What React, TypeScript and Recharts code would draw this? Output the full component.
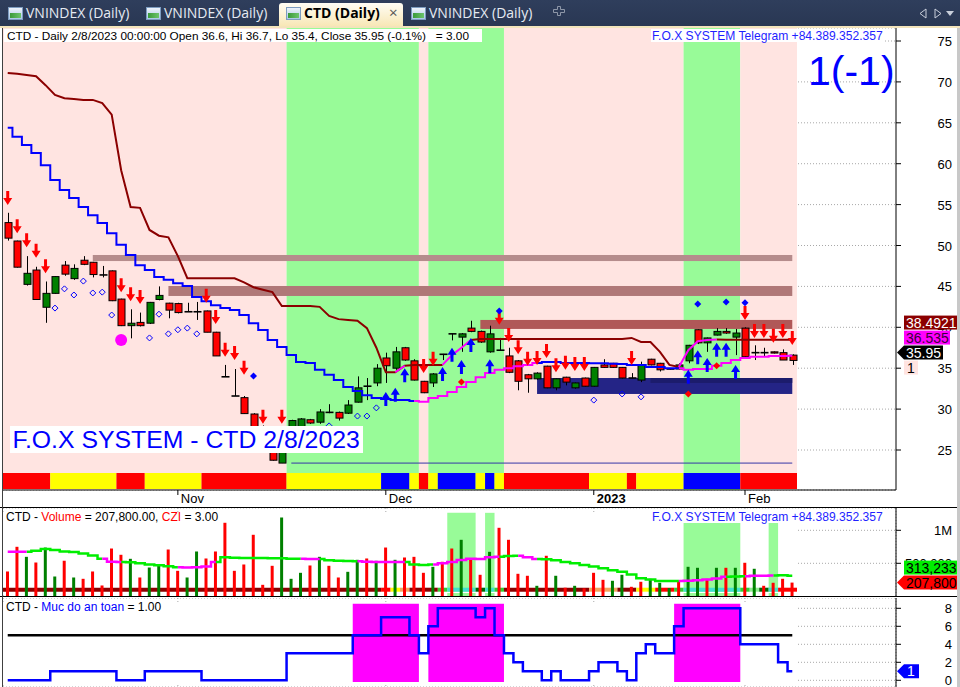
import React from 'react';
import {
  ComposedChart, XAxis, YAxis, Bar, Line, Scatter, ReferenceArea, ReferenceLine, CartesianGrid, Cell,
} from 'recharts';

const FONT = '"Liberation Sans", Arial, sans-serif';
const N = 84;
const PAD_R = 99;

// ---------- categories / ticks ----------
const barIndex = Array.from({ length: N }, (_, i) => i);
const dateTickIdx = [18, 40, 62, 78];
const dateTickLabel = ['Nov', 'Dec', '2023', 'Feb'];
const priceTicks = [25, 30, 35, 40, 45, 50, 55, 60, 65, 70, 75];
const volTicks = [500, 1000];
const safetyTicks = [0, 2, 4, 6, 8];

// ---------- OHLC ----------
const openP = [52.8,50.55,45.25,47.0,42.45,44.15,47.6,45.95,48.2,47.95, 46.4,46.9,43.45,40.2,40.6,40.5,43.4,42.95,42.9,41.9, 41.9,42.0,39.4,33.95,31.6,31.4,29.4,27.35,25.4,23.4, 27.5,27.7,28.7,28.4,29.6,29.6,29.5,30.85,32.8,33.2, 36.25,35.0,37.5,35.9,33.4,33.2,36.7,39.2,38.8,39.9, 39.5,37.0,37.2,36.5,35.9,34.2,33.7,35.25,32.6,33.9, 32.6,33.8,32.8,35.4,35.6,35.1,33.8,33.55,36.1,35.6, 34.9,34.9,35.9,39.7,38.1,39.05,39.5,38.8,39.9,36.9, 36.9,37.0,36.9,36.6];
const highP = [54.0,50.6,48.7,47.4,45.6,46.25,48.1,47.7,48.7,48.0, 47.5,46.95,43.5,42.2,41.8,43.1,45.0,43.0,43.0,43.0, 43.1,42.05,39.45,35.4,34.9,31.6,29.5,28.0,25.8,25.5, 28.7,28.9,28.8,30.0,30.6,29.7,31.1,34.0,33.8,35.5, 36.9,37.6,37.6,36.1,33.45,34.4,36.75,39.25,39.3,40.8, 39.6,40.2,38.7,37.5,36.0,34.3,34.5,35.3,33.75,33.95, 33.25,33.85,35.15,36.1,35.65,35.15,34.4,35.8,36.15,35.65, 34.95,35.6,37.85,39.75,38.75,39.9,39.9,39.8,40.0,37.8, 37.5,37.05,37.3,36.7];
const lowP = [50.6,47.3,45.1,43.35,40.55,44.1,46.3,45.8,47.6,46.1, 46.1,43.2,40.15,38.65,40.1,40.4,43.3,41.1,41.7,41.9, 40.9,39.4,36.5,33.95,31.6,29.4,27.35,25.45,23.7,23.4, 27.3,27.5,28.2,28.2,29.5,28.6,29.4,30.8,31.1,32.8, 33.2,34.8,35.9,33.5,31.95,32.7,36.0,38.4,37.0,39.4, 38.1,36.9,37.15,34.4,32.3,32.0,33.6,32.55,32.3,32.9, 32.5,32.75,32.75,35.05,35.05,33.75,33.8,33.3,35.35,34.6, 34.85,34.85,35.6,37.95,37.0,39.0,39.2,36.6,36.3,36.0, 36.4,36.8,36.0,35.4];
const closeP = [50.9,47.35,46.6,43.4,44.15,46.2,46.5,47.2,47.7,46.45, 46.4,43.25,40.2,40.5,40.2,43.05,43.9,42.1,41.8,41.9, 41.9,39.4,36.5,33.95,31.6,29.45,27.4,25.5,23.75,24.8, 28.6,28.8,28.3,29.65,29.6,28.9,30.5,32.6,32.8,35.0, 35.3,37.0,36.0,33.55,32.0,34.3,36.7,39.2,39.2,39.5, 38.2,39.2,37.2,34.5,33.4,33.7,34.4,32.6,33.7,33.3, 33.2,32.8,35.1,35.1,35.1,33.8,33.8,35.4,35.4,34.8, 34.9,35.4,37.8,38.1,38.7,39.5,39.3,39.3,36.4,36.9, 36.9,36.85,36.0,35.95];

// ---------- trailing lines ----------
const upperLine = [71.1,71.0,70.85,70.7,69.6,68.4,68.0,67.9,67.8,67.8, 67.4,66.0,59.2,54.7,54.6,51.9,51.2,51.0,48.7,46.0, 46.0,46.0,46.0,46.0,46.0,45.5,44.9,44.6,44.3,42.6, 42.6,42.6,42.6,42.5,41.4,41.0,40.9,40.8,39.9,37.5, 34.5,34.5,35.3,35.4,35.4,35.4,35.4,36.6,37.5,38.45, 38.57,38.57,38.57,38.57,38.57,38.57,38.57,38.57,38.57,38.57, 38.57,38.57,38.57,38.57,38.57,38.57,38.7,38.2,38.2,37.0, 35.4,35.15,37.2,38.3,38.45,38.5,38.49,38.49,38.49,38.49, 38.49,38.49,38.49,38.4921];
const upperMagentaIdx = [42, 47, 48, 49, 72, 73, 74, 75];
const lowerLine = [64.4,63.3,62.3,61.3,59.8,58.0,56.8,55.8,54.7,53.7, 52.75,51.5,50.1,48.85,47.6,47.0,46.15,45.8,45.4,45.05, 43.7,43.2,42.7,42.35,42.1,41.5,40.5,39.67,38.45,37.6, 36.6,35.75,35.65,34.8,34.2,33.55,32.7,32.2,31.7,31.35, 31.25,31.1,31.1,31.0,30.9,31.35,31.6,32.1,32.7,33.3, 33.9,34.4,34.8,35.0,35.25,35.4,35.65,35.75,35.75,35.65, 35.65,35.65,35.6,35.6,35.55,35.5,35.4,35.4,35.15,35.15, 35.0,35.0,34.8,34.9,34.9,35.3,35.65,36.0,36.25,36.4, 36.4,36.5,36.5,36.535];
const lowerMagentaRuns = [[44, 56], [72, 83]];

// ---------- signal markers (bar index, price) ----------
const sellSignals = [[0,54.95],[1,51.5],[2,49.8],[3,48.5],[4,46.6],[12,44.3],[13,43.2],[14,42.85],[21,43.0],[22,40.4],[23,36.4],[24,36.0],[25,34.2],[27,28.2],[29,28.2],[44,34.4],[45,35.3],[52,40.3],[53,38.2],[54,36.7],[55,35.3],[56,35.4],[57,36.25],[58,34.5],[59,34.8],[60,34.65],[61,34.65],[66,35.4],[78,40.9],[79,38.7],[80,38.7],[81,38.1],[82,38.7],[83,37.85]];
const buySignals = [[40,32.1],[41,32.6],[42,35.0],[46,35.15],[47,37.5],[48,36.0],[49,38.7],[51,36.1],[72,34.8],[73,37.2],[74,36.25],[75,38.1],[76,38.1],[77,35.4]];
const hollowDiamonds = [[5,42.35],[6,44.7],[7,43.95],[8,45.65],[9,44.2],[10,44.3],[11,41.5],[15,38.7],[16,41.6],[17,39.2],[18,39.7],[19,39.9],[20,39.2],[34,27.95],[37,29.15],[38,29.15],[39,30.15],[62,31.1],[65,31.85],[67,31.5]];
const filledDiamonds = [[26,34.05],[52,42.0],[73,42.85],[76,43.1],[78,43.0]];
const redDots = [[48,33.3],[72,31.85],[75,35.3]];
const magentaDots = [[12,38.45]];

// ---------- zones ----------
const zones = [
  { from: 9, to: 83, lo: 48.1, hi: 48.84, color: '#b58c8c' },
  { from: 17, to: 83, lo: 43.83, hi: 45.05, color: '#b07878' },
  { from: 50, to: 83, lo: 39.8, hi: 40.9, color: '#b05858' },
  { from: 56, to: 83, lo: 31.85, hi: 33.8, color: '#242486' },
  { from: 68, to: 83, lo: 33.2, hi: 33.8, color: '#1c1c6c' },
];
const supportLine = { from: 30, to: 83, value: 23.4 };

// ---------- background / strips ----------
const bgRuns: [string, number, number][] = [['P',0,29],['G',30,43],['P',44,44],['G',45,52],['P',53,71],['G',72,77],['P',78,83]];
const mainStripRuns: [string, number, number][] = [['R',0,4],['Y',5,11],['R',12,14],['Y',15,20],['R',21,29],['Y',30,39],['B',40,42],['Y',43,43],['R',44,44],['Y',45,45],['B',46,49],['Y',50,50],['B',51,51],['Y',52,52],['R',53,61],['Y',62,65],['R',66,66],['Y',67,71],['B',72,77],['R',78,83]];

// ---------- volume ----------
const volumeK = [376,750,598,512,739,300,538,285,265,376, 164,724,629,568,285,436,467,709,386,285, 679,573,679,1114,386,482,932,174,462,1194, 265,356,467,598,462,285,371,553,573,538, 739,553,588,598,356,447,523,724,856,553, 326,674,1038,856,341,311,159,614,311,130, 159,120,356,250,235,326,144,220,265,205, 125,235,447,432,265,432,432,432,508,417, 159,205,265,207.8];
const volumeDir = 'RRGRGGRGRRRRRGRGGRRGGRRRRRRRRGGGRGRRGGRGRGRRRGRRGRRGRRRRGRGRGRRRGGRRGGGRGGRGRGRGRR';
const volumeMA = [676,676,676,690,717,700,680,670,650,620, 570,525,520,515,500,480,470,455,440,435, 440,450,520,590,585,580,580,580,575,575, 570,568,565,565,545,540,535,530,525,520, 520,520,520,480,475,480,500,520,550,570, 565,590,600,610,615,590,565,563,545,520, 500,475,450,425,395,373,330,273,255,232, 232,232,235,245,255,270,297,300,305,310, 312,315,318,313.233];
const volumeMAMagentaRuns = [[0,2],[11,12],[19,22],[32,33],[38,42],[46,52],[55,56],[72,76],[79,81]];
const volumeBgRuns = [[47,49],[51,51],[72,77],[81,81]];
const volumeStripRuns: [string, number, number][] = [['D',0,39],['R',40,40],['Y',41,41],['S',42,42],['D',43,45],['G',46,46],['C',47,49],['K',50,50],['C',51,51],['G',52,52],['D',53,61],['S',62,64],['D',65,66],['Y',67,68],['R',69,70],['G',71,71],['C',72,77],['G',78,78],['L',79,79],['K',80,80],['C',81,81],['R',82,83]];

// ---------- safety level (Muc do an toan) ----------
const safety = [0,0,0,0,0,1,1,1,1,1, 1,1,0,0,0,1,1,1,1,1, 1,0,0,0,0,0,0,0,0,0, 3,3,3,3,3,3,3,5,5,5, 7,7,7,5,3,6,8,8,8,8, 7,8,5,3,2,1,1,0,1,0, 0,0,1,2,2,1,0,3,4,3, 3,6,8,8,8,8,8,8,4,4, 4,4,2,1];
const safetyBlocks = [[37,43],[45,52],[71,77]];
const safetyThreshold = 5;
const extraLabel = 1;

// ---------- colours ----------
const BG: Record<string, string> = { P: '#ffe4e1', G: '#98fb98' };
const STRIP: Record<string, string> = { R: '#ff0000', Y: '#ffff00', B: '#0000ff' };
const VSTRIP: Record<string, string> = { D: '#8b0000', R: '#ff0000', Y: '#ffff00', S: '#f4a460', G: '#32cd32', C: '#40e0d0', K: '#006400', L: '#90ee90' };

// ---------- helpers ----------
const inRuns = (i: number, runs: number[][]) => runs.some(([a, b]) => i >= a && i <= b);
function splitSeries(vals: number[], alt: boolean[]) {
  const a: (number | null)[] = [];
  const b: (number | null)[] = [];
  for (let i = 0; i < vals.length; i++) {
    const nxt = i + 1 < vals.length ? alt[i + 1] : alt[i];
    a.push(!alt[i] || !nxt ? vals[i] : null);
    b.push(alt[i] || nxt ? vals[i] : null);
  }
  return [a, b];
}
const toMap = (arr: number[][]) => new Map(arr.map(([i, v]) => [i, v]));

const [upR, upM] = splitSeries(upperLine, barIndex.map(i => upperMagentaIdx.includes(i)));
const [loB, loM] = splitSeries(lowerLine, barIndex.map(i => inRuns(i, lowerMagentaRuns)));
const [maG, maM] = splitSeries(volumeMA, barIndex.map(i => inRuns(i, volumeMAMagentaRuns)));
const sellM = toMap(sellSignals), buyM = toMap(buySignals), hdM = toMap(hollowDiamonds),
  fdM = toMap(filledDiamonds), rdM = toMap(redDots), mdM = toMap(magentaDots);

const rows = barIndex.map(i => ({
  i,
  hl: [lowP[i], highP[i]],
  o: openP[i], h: highP[i], l: lowP[i], c: closeP[i],
  upR: upR[i], upM: upM[i], loB: loB[i], loM: loM[i],
  sell: sellM.get(i) ?? null, buy: buyM.get(i) ?? null, hd: hdM.get(i) ?? null,
  fd: fdM.get(i) ?? null, rd: rdM.get(i) ?? null, md: mdM.get(i) ?? null,
  vol: volumeK[i], maG: maG[i], maM: maM[i], safety: safety[i],
}));

// ---------- shapes ----------
const Candle = (p: any) => {
  const { x, y, width, height, payload } = p;
  if (!payload || height == null) return null;
  const { o, h, l, c } = payload;
  const k = height / (h - l);
  const yo = y + (h - o) * k;
  const yc = y + (h - c) * k;
  const cx = Math.round(x + width / 2) + 0.5;
  const top = Math.min(yo, yc), bot = Math.max(yo, yc);
  const doji = Math.abs(c - o) < 0.03;
  return (
    <g>
      <line x1={cx} x2={cx} y1={y} y2={y + height} stroke="#000" strokeWidth={1} />
      {doji ? (
        <line x1={cx - 4} x2={cx + 4} y1={yo} y2={yo} stroke="#000" strokeWidth={1.6} />
      ) : (
        <rect x={cx - 3.5} y={top} width={7} height={Math.max(bot - top, 1)} fill={c > o ? '#008000' : '#ff0000'} stroke="#000" strokeWidth={1} />
      )}
    </g>
  );
};

const SellArrow = (p: any) => {
  if (p.payload?.sell == null) return <g />;
  const { cx, cy } = p;
  return <polygon points={`${cx - 1.5},${cy - 14} ${cx + 1.5},${cy - 14} ${cx + 1.5},${cy - 7} ${cx + 4.5},${cy - 7} ${cx},${cy} ${cx - 4.5},${cy - 7} ${cx - 1.5},${cy - 7}`} fill="#ff0000" />;
};
const BuyArrow = (p: any) => {
  if (p.payload?.buy == null) return <g />;
  const { cx, cy } = p;
  return <polygon points={`${cx - 1.5},${cy + 14} ${cx + 1.5},${cy + 14} ${cx + 1.5},${cy + 7} ${cx + 4.5},${cy + 7} ${cx},${cy} ${cx - 4.5},${cy + 7} ${cx - 1.5},${cy + 7}`} fill="#0000ff" />;
};
const HollowDiamond = (p: any) => {
  if (p.payload?.hd == null) return <g />;
  const { cx, cy } = p;
  return <polygon points={`${cx},${cy - 3} ${cx + 3},${cy} ${cx},${cy + 3} ${cx - 3},${cy}`} fill="none" stroke="#0000ff" strokeWidth={1} />;
};
const FilledDiamond = (p: any) => {
  if (p.payload?.fd == null) return <g />;
  const { cx, cy } = p;
  return <polygon points={`${cx},${cy - 3.5} ${cx + 3.5},${cy} ${cx},${cy + 3.5} ${cx - 3.5},${cy}`} fill="#0000ff" />;
};
const RedDot = (p: any) => {
  if (p.payload?.rd == null) return <g />;
  const { cx, cy } = p;
  return <polygon points={`${cx},${cy - 3.5} ${cx + 3.5},${cy} ${cx},${cy + 3.5} ${cx - 3.5},${cy}`} fill="#ff0000" />;
};
const MagentaDot = (p: any) => {
  if (p.payload?.md == null) return <g />;
  return <circle cx={p.cx} cy={p.cy} r={6} fill="#ff00ff" />;
};

const ZoneRect = (p: any) => {
  const hb = p.width / p.n / 2;
  return <rect x={p.x + hb} y={p.y} width={p.width - 2 * hb} height={p.height} fill={p.color} />;
};

const RightTick = (p: any) => {
  const { x, y, payload, fmt } = p;
  return (
    <g>
      <line x1={x} x2={x + 5} y1={y} y2={y} stroke="#000" />
      <text x={x + 56} y={y + 5} textAnchor="end" fontSize={13} fontFamily={FONT} fill="#000">
        {fmt ? fmt(payload.value) : payload.value}
      </text>
    </g>
  );
};

const DateTick = (p: any) => {
  const k = dateTickIdx.indexOf(p.payload.value);
  if (k < 0) return <g />;
  const lab = dateTickLabel[k];
  return (
    <g>
      <line x1={p.x} x2={p.x} y1={p.y} y2={p.y + 5} stroke="#000" />
      <text x={p.x + 3} y={p.y + 13} fontSize={13} fontFamily={FONT} fontWeight={/^\d+$/.test(lab) ? 'bold' : 'normal'} fill="#000">{lab}</text>
    </g>
  );
};

const fmtPrice = (v: number) => String(v);
const MainTags = (props: any) => {
  const vb = props.viewBox || {};
  const ax = (vb.x ?? 0) + (vb.width ?? 0);
  const y = vb.y ?? 0;
  const ts = { fontFamily: FONT, fontSize: 14 } as any;
  return (
    <g>
      <rect x={ax + 8} y={y - 37} width={53} height={14} fill="#8b0000" />
      <text x={ax + 10} y={y - 25} fill="#fff" {...ts}>{fmtPrice(upperLine[N - 1])}</text>
      <rect x={ax + 8} y={y - 22} width={46} height={14} fill="#ff00ff" />
      <text x={ax + 10} y={y - 10} fill="#3a003a" {...ts}>{fmtPrice(lowerLine[N - 1])}</text>
      <polygon points={`${ax + 1},${y} ${ax + 8},${y - 7} ${ax + 47},${y - 7} ${ax + 47},${y + 7} ${ax + 8},${y + 7}`} fill="#000" />
      <text x={ax + 10} y={y + 5} fill="#fff" {...ts}>{fmtPrice(closeP[N - 1])}</text>
      <rect x={ax + 8} y={y + 8} width={14} height={14} fill="#ffe4e1" />
      <text x={ax + 11} y={y + 20} fill="#000" {...ts}>{extraLabel}</text>
    </g>
  );
};
const fmtVol = (v: number) => Math.round(v * 1000).toLocaleString('en-US');
const VolTags = (props: any) => {
  const vb = props.viewBox || {};
  const ax = (vb.x ?? 0) + (vb.width ?? 0);
  const y = vb.y ?? 0;
  const ts = { fontFamily: FONT, fontSize: 14 } as any;
  return (
    <g>
      <rect x={ax + 8} y={y - 22} width={53} height={14} fill="#00ee00" />
      <text x={ax + 10} y={y - 10} fill="#000" {...ts}>{fmtVol(volumeMA[N - 1])}</text>
      <polygon points={`${ax + 1},${y} ${ax + 8},${y - 7} ${ax + 61},${y - 7} ${ax + 61},${y + 7} ${ax + 8},${y + 7}`} fill="#ff0000" />
      <text x={ax + 10} y={y + 5} fill="#000" {...ts}>{fmtVol(volumeK[N - 1])}</text>
    </g>
  );
};
const SafetyTag = (props: any) => {
  const vb = props.viewBox || {};
  const ax = (vb.x ?? 0) + (vb.width ?? 0);
  const y = vb.y ?? 0;
  return (
    <g>
      <polygon points={`${ax + 1},${y} ${ax + 8},${y - 7} ${ax + 23},${y - 7} ${ax + 23},${y + 7} ${ax + 8},${y + 7}`} fill="#0000ff" />
      <text x={ax + 11} y={y + 5} fill="#fff" fontFamily={FONT} fontSize={14}>{safety[N - 1]}</text>
    </g>
  );
};

// Overlay chart that shares a panel's scales and only draws the value tags on top of the axis labels
const TagLayer = ({ top, height, bottom, domain, value, tag }: any) => (
  <div style={{ position: 'absolute', left: 0, top, pointerEvents: 'none' }}>
    <ComposedChart width={960} height={height} data={rows} margin={{ top: 0, right: 64, bottom, left: 3 }}>
      <XAxis dataKey="i" type="category" scale="band" hide padding={{ left: 0, right: PAD_R }} />
      <YAxis hide domain={domain} allowDataOverflow />
      <ReferenceLine y={value} stroke="none" label={tag} />
    </ComposedChart>
  </div>
);

// ---------- tab bar ----------
const TabIcon = ({ left }: { left: number }) => (
  <div style={{ position: 'absolute', left, top: 7, width: 15, height: 13, background: 'linear-gradient(#eef3fa,#a9c8e8)', border: '1px solid #7d9cc0', boxSizing: 'border-box', overflow: 'hidden' }}>
    <div style={{ position: 'absolute', left: 1, bottom: 1, width: 11, height: 5, background: 'linear-gradient(90deg,#3a9a3a,#6cc46c)' }} />
  </div>
);
const tabs = [
  { left: 8, text: 'VNINDEX (Daily)', active: false },
  { left: 146, text: 'VNINDEX (Daily)', active: false },
  { left: 286, text: 'CTD (Daily)', active: true },
  { left: 411, text: 'VNINDEX (Daily)', active: false },
];

const TabBar = () => (
  <div style={{ position: 'absolute', left: 0, top: 0, width: 960, height: 26, background: 'linear-gradient(#2f3e5c,#293753)', fontFamily: '"Open Sans", "Noto Sans", sans-serif', fontSize: 14 }}>
    <div style={{ position: 'absolute', left: 279, top: 3, width: 124, height: 23, background: 'linear-gradient(#fffdf5,#f8e7b6)', borderRadius: '3px 3px 0 0' }} />
    {tabs.map((t, k) => (
      <React.Fragment key={k}>
        <TabIcon left={t.left} />
        <div style={{ position: 'absolute', left: t.left + 18, top: 3, lineHeight: '20px', color: t.active ? '#000' : '#e6ebf3', fontWeight: t.active ? 700 : 400, whiteSpace: 'nowrap' }}>{t.text}</div>
      </React.Fragment>
    ))}
    <div style={{ position: 'absolute', left: 389, top: 2, lineHeight: '20px', color: '#555', fontSize: 15 }}>×</div>
    <svg style={{ position: 'absolute', left: 0, top: 0 }} width={960} height={26}>
      <path d="M553.5,9.5 h4 v-3 h3 v3 h4 v3 h-4 v3 h-3 v-3 h-4 z" fill="none" stroke="#8e97a8" strokeWidth={1} />
      <polygon points="926,9 926,18 920,13.5" fill="none" stroke="#c9cfdb" />
      <polygon points="935,9 935,18 941,13.5" fill="none" stroke="#c9cfdb" />
      <polygon points="946,11 954,11 950,16" fill="#c9cfdb" />
    </svg>
    <div style={{ position: 'absolute', left: 0, top: 26, width: 960, height: 2, background: '#f3e4bb' }} />
  </div>
);

export default function App() {
  const priceDomain: [number, number] = [20.11, 76.59];
  const volDomain: [number, number] = [-10.6, 1337.9];
  const safetyDomain: [number, number] = [-0.744, 9.145];
  return (
    <div style={{ position: 'absolute', left: 0, top: 0, width: 960, height: 687, background: '#fff', overflow: 'hidden', fontFamily: FONT }}>
      {/* ---------------- main price panel ---------------- */}
      <div style={{ position: 'absolute', left: 0, top: 0 }}>
        <ComposedChart width={960} height={507} data={rows} margin={{ top: 28, right: 0, bottom: 0, left: 3 }}>
          <CartesianGrid vertical={false} stroke="#a8a8a8" strokeDasharray="1 2" />
          <XAxis dataKey="i" type="category" scale="band" padding={{ left: 0, right: PAD_R }} ticks={dateTickIdx} interval={0}
            tickLine={false} tickSize={0} tickMargin={0} axisLine={{ stroke: '#000' }} height={17} tick={<DateTick />} />
          <YAxis orientation="right" width={64} domain={priceDomain} allowDataOverflow ticks={priceTicks} interval={0}
            tickLine={false} tickSize={0} tickMargin={0} axisLine={{ stroke: '#000' }} tick={<RightTick />} />
          {bgRuns.map(([code, a, b], k) => (
            <ReferenceArea key={'bg' + k} x1={a} x2={b} fill={BG[code]} fillOpacity={1} stroke="none" ifOverflow="visible" />
          ))}
          {mainStripRuns.map(([code, a, b], k) => (
            <ReferenceArea key={'st' + k} x1={a} x2={b} y1={20.23} y2={22.19} fill={STRIP[code]} fillOpacity={1} stroke="none" ifOverflow="visible" />
          ))}
          <Scatter dataKey="sell" shape={<SellArrow />} isAnimationActive={false} />
          {zones.map((z, k) => (
            <ReferenceArea key={'z' + k} x1={z.from} x2={z.to} y1={z.lo} y2={z.hi} fillOpacity={1} stroke="none" ifOverflow="visible"
              shape={(p: any) => <ZoneRect {...p} n={z.to - z.from + 1} color={z.color} />} />
          ))}
          <ReferenceLine segment={[{ x: supportLine.from, y: supportLine.value }, { x: supportLine.to, y: supportLine.value }]} stroke="#3636a8" strokeWidth={1} />
          <Line dataKey="upR" type="linear" stroke="#8b0000" strokeWidth={2} dot={false} isAnimationActive={false} />
          <Line dataKey="upM" type="linear" stroke="#ff00ff" strokeWidth={2} dot={false} isAnimationActive={false} />
          <Line dataKey="loB" type="step" stroke="#0000ff" strokeWidth={2} dot={false} isAnimationActive={false} />
          <Line dataKey="loM" type="step" stroke="#ff00ff" strokeWidth={2} dot={false} isAnimationActive={false} />
          <Bar dataKey="hl" barSize={6} shape={<Candle />} isAnimationActive={false} />
          <Scatter dataKey="buy" shape={<BuyArrow />} isAnimationActive={false} />
          <Scatter dataKey="hd" shape={<HollowDiamond />} isAnimationActive={false} />
          <Scatter dataKey="fd" shape={<FilledDiamond />} isAnimationActive={false} />
          <Scatter dataKey="rd" shape={<RedDot />} isAnimationActive={false} />
          <Scatter dataKey="md" shape={<MagentaDot />} isAnimationActive={false} />
        </ComposedChart>
      </div>

      {/* ---------------- volume panel ---------------- */}
      <div style={{ position: 'absolute', left: 0, top: 508 }}>
        <ComposedChart width={960} height={89} data={rows} margin={{ top: 0, right: 0, bottom: 0, left: 3 }}>
          <CartesianGrid stroke="#a8a8a8" strokeDasharray="1 2" />
          <XAxis dataKey="i" type="category" scale="band" hide padding={{ left: 0, right: PAD_R }} ticks={dateTickIdx} interval={0} />
          <YAxis orientation="right" width={64} domain={volDomain} allowDataOverflow ticks={volTicks} interval={0}
            tickLine={false} tickSize={0} tickMargin={0} axisLine={{ stroke: '#000' }}
            tick={<RightTick fmt={(v: number) => (v >= 1000 ? v / 1000 + 'M' : (v * 1000).toLocaleString('en-US'))} />} />
          <ReferenceArea x1={0} x2={N - 1} y1={50} y2={1262} fill="#ffffff" fillOpacity={1} stroke="none" ifOverflow="visible" />
          {volumeBgRuns.map(([a, b], k) => (
            <ReferenceArea key={'vb' + k} x1={a} x2={b} y1={0} y2={1265} fill="#98fb98" fillOpacity={1} stroke="none" ifOverflow="visible" />
          ))}
          <Bar dataKey="vol" barSize={3} isAnimationActive={false}>
            {rows.map((r, k) => <Cell key={k} fill={volumeDir[k] === 'G' ? '#008000' : '#ff0000'} />)}
          </Bar>
          <ReferenceArea x1={0} x2={N - 1} y1={50} y2={69.7} fill="#ffffff" fillOpacity={1} stroke="none" ifOverflow="visible" />
          {volumeStripRuns.map(([code, a, b], k) => (
            <ReferenceArea key={'vs' + k} x1={a} x2={b} y1={69.7} y2={130.3} fill={VSTRIP[code]} fillOpacity={1} stroke="none" ifOverflow="visible" />
          ))}
          <Line dataKey="maG" type="step" stroke="#00ee00" strokeWidth={2.5} dot={false} isAnimationActive={false} />
          <Line dataKey="maM" type="step" stroke="#ff00ff" strokeWidth={2.5} dot={false} isAnimationActive={false} />
        </ComposedChart>
      </div>

      {/* ---------------- safety panel ---------------- */}
      <div style={{ position: 'absolute', left: 0, top: 598 }}>
        <ComposedChart width={960} height={89} data={rows} margin={{ top: 0, right: 0, bottom: 0, left: 3 }}>
          <CartesianGrid stroke="#a8a8a8" strokeDasharray="1 2" />
          <XAxis dataKey="i" type="category" scale="band" hide padding={{ left: 0, right: PAD_R }} ticks={dateTickIdx} interval={0} />
          <YAxis orientation="right" width={64} domain={safetyDomain} allowDataOverflow ticks={safetyTicks} interval={0}
            tickLine={false} tickSize={0} tickMargin={0} axisLine={{ stroke: '#000' }} tick={<RightTick />} />
          <ReferenceArea x1={0} x2={N - 1} y1={-0.3} y2={8.59} fill="#ffffff" fillOpacity={1} stroke="none" ifOverflow="visible" />
          {safetyBlocks.map(([a, b], k) => (
            <ReferenceArea key={'sb' + k} x1={a} x2={b} y1={-0.2} y2={8.5} fill="#ff00ff" fillOpacity={1} stroke="none" ifOverflow="visible" />
          ))}
          <ReferenceLine segment={[{ x: 0, y: safetyThreshold }, { x: N - 1, y: safetyThreshold }]} stroke="#000" strokeWidth={2.5} />
          <Line dataKey="safety" type="step" stroke="#0000ff" strokeWidth={2.5} dot={false} isAnimationActive={false} />
        </ComposedChart>
      </div>

      {/* ---------------- value tags (drawn above axis labels) ---------------- */}
      <TagLayer top={0} height={507} bottom={17} domain={priceDomain} value={closeP[N - 1]} tag={<MainTags />} />
      <TagLayer top={508} height={89} bottom={0} domain={volDomain} value={volumeK[N - 1]} tag={<VolTags />} />
      <TagLayer top={598} height={89} bottom={0} domain={safetyDomain} value={safety[N - 1]} tag={<SafetyTag />} />

      {/* ---------------- frame lines ---------------- */}
      <div style={{ position: 'absolute', left: 0, top: 507, width: 960, height: 1, background: '#000' }} />
      <div style={{ position: 'absolute', left: 0, top: 596, width: 960, height: 1, background: '#000' }} />
      <div style={{ position: 'absolute', left: 2, top: 28, width: 1, height: 659, background: '#404040' }} />
      <div style={{ position: 'absolute', left: 957, top: 28, width: 3, height: 659, background: '#c8c8c8' }} />

      {/* ---------------- text overlays ---------------- */}
      <svg style={{ position: 'absolute', left: 0, top: 0 }} width={960} height={687} fontFamily={FONT}>
        <rect x={4} y={29} width={478} height={13} fill="#fff" />
        <text x={7} y={39.5} fontSize={11.8} fill="#000" style={{ whiteSpace: 'pre' }}>CTD - Daily 2/8/2023 00:00:00 Open 36.6, Hi 36.7, Lo 35.4, Close 35.95 (-0.1%)   = 3.00</text>
        <rect x={651} y={29} width={233} height={13} fill="#fff" />
        <text x={652} y={39.5} fontSize={12.1} fill="#1f1fff">F.O.X SYSTEM Telegram +84.389.352.357</text>
        <text x={808} y={85} fontSize={41} fill="#0000ff">1(-1)</text>
        <rect x={10} y={426} width={353} height={27} fill="#fff" />
        <text x={12.5} y={448.3} fontSize={24.8} fill="#0000ff">F.O.X SYSTEM - CTD 2/8/2023</text>

        <text x={6} y={520.5} fontSize={12} fill="#000">CTD - <tspan fill="#ff0000">Volume</tspan> = 207,800.00, <tspan fill="#ff0000">CZI</tspan> = 3.00</text>
        <rect x={651} y={509} width={233} height={14} fill="#fff" />
        <text x={652} y={520.5} fontSize={12.1} fill="#1f1fff">F.O.X SYSTEM Telegram +84.389.352.357</text>

        <text x={6} y={611} fontSize={12} fill="#000">CTD - <tspan fill="#0000ff">Muc do an toan</tspan> = 1.00</text>
      </svg>

      <TabBar />
    </div>
  );
}
